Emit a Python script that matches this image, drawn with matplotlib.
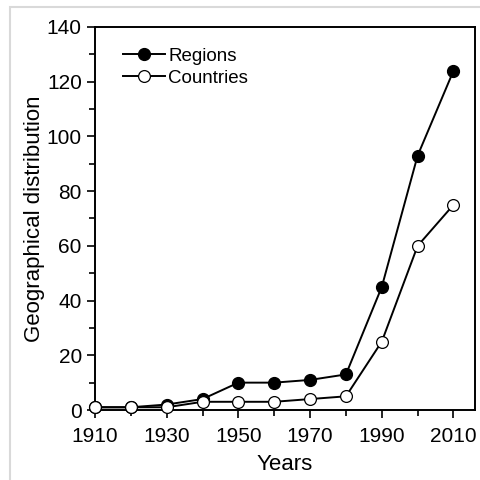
import matplotlib.pyplot as plt
from matplotlib.patches import Rectangle
from matplotlib.ticker import MultipleLocator

plt.rcParams['font.family'] = ['Liberation Sans', 'DejaVu Sans']

# Datos
years = [1910, 1920, 1930, 1940, 1950, 1960, 1970, 1980, 1990, 2000, 2010]
regions = [1, 1, 2, 4, 10, 10, 11, 13, 45, 93, 124]
countries = [1, 1, 1, 3, 3, 3, 4, 5, 25, 60, 75]
xticks_major = [1910, 1930, 1950, 1970, 1990, 2010]
xticks_minor = [1920, 1940, 1960, 1980, 2000]

fig = plt.figure(figsize=(4.81, 4.8), dpi=100)
ax = fig.add_axes([95 / 481, 1 - 410 / 480, 380 / 481, 383 / 480])

# Marco gris exterior
fig.patches.append(Rectangle((10 / 481, -0.01), 1.0, 1 - 7 / 480 + 0.01,
                             transform=fig.transFigure, fill=False,
                             edgecolor="#d9d9d9", linewidth=1.5))

ax.plot(years, regions, color="black", lw=1.4, marker="o", ms=8.5,
        mfc="black", mec="black", label="Regions", clip_on=False, zorder=3)
ax.plot(years, countries, color="black", lw=1.4, marker="o", ms=8.5,
        mfc="white", mec="black", mew=0.9, label="Countries", clip_on=False, zorder=3)

ax.set_xlim(1910, 2016)
ax.set_ylim(0, 140)
ax.set_xticks(xticks_major)
ax.set_xticks(xticks_minor, minor=True)
ax.yaxis.set_major_locator(MultipleLocator(20))
ax.yaxis.set_minor_locator(MultipleLocator(10))
ax.tick_params(which="both", direction="out", labelsize=15, width=1.2)
ax.tick_params(which="major", length=6)
ax.tick_params(which="minor", length=4)
ax.tick_params(axis="x", which="major", pad=6)
for s in ax.spines.values():
    s.set_linewidth(1.4)

ax.set_xlabel("Years", fontsize=16, labelpad=6)
ax.set_ylabel("Geographical distribution", fontsize=16, labelpad=1)

ax.legend(loc="upper left", frameon=False, fontsize=13.5, handlelength=2.2,
          handletextpad=0.2, borderaxespad=0.3, labelspacing=0.25,
          bbox_to_anchor=(0.04, 0.98))

plt.savefig("out.png", dpi=100)
